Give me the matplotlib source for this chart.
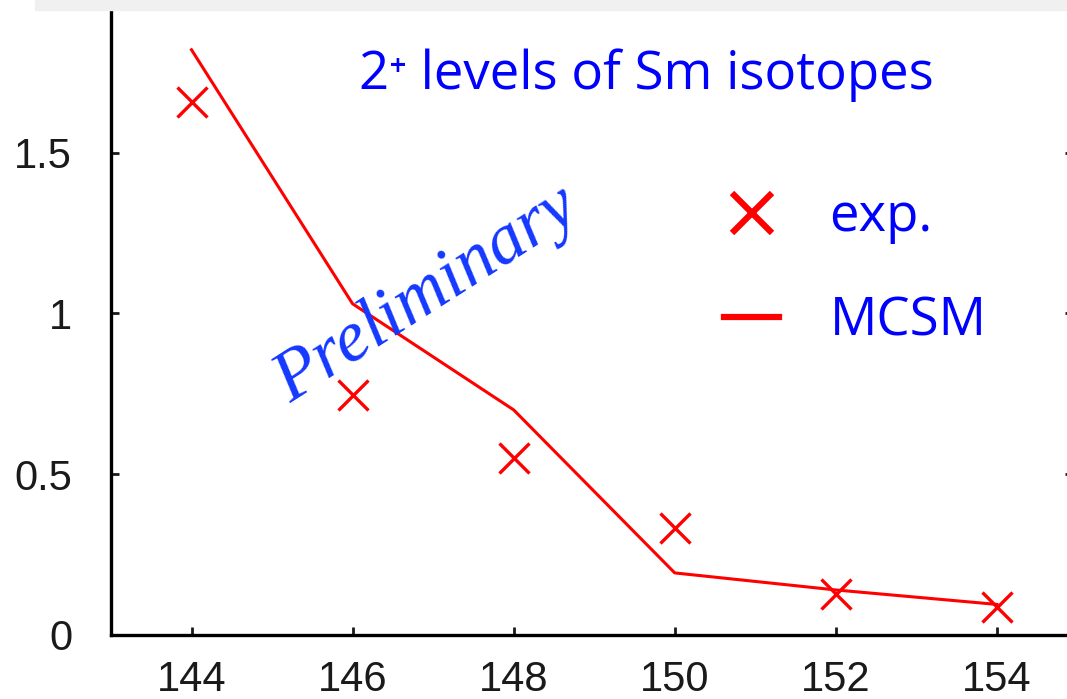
"""2+ levels of Sm isotopes: experiment vs MCSM (preliminary)."""
import matplotlib
matplotlib.use("Agg")
import matplotlib.pyplot as plt
from matplotlib.lines import Line2D
from matplotlib.patches import Rectangle

mass = [144, 146, 148, 150, 152, 154]
exp_e2 = [1.659, 0.747, 0.551, 0.333, 0.128, 0.087]
mcsm_e2 = [1.82, 1.03, 0.70, 0.193, 0.14, 0.095]
xticks = [144, 146, 148, 150, 152, 154]
yticks = [0, 0.5, 1, 1.5]
ytick_labels = ["0", "0.5", "1", "1.5"]

plt.rcParams["font.family"] = ["Liberation Sans", "DejaVu Sans"]

fig = plt.figure(figsize=(10.67, 6.99), dpi=100)
ax = fig.add_axes([0.104, 0.0916, 0.902, 0.92])

ax.plot(mass, mcsm_e2, color="red", lw=2.2, zorder=3)
ax.plot(mass, exp_e2, ls="none", marker="x", color="red", ms=21, mew=2.4, zorder=4)

ax.set_xlim(143, 154.95)
ax.set_ylim(0, 2.0)
ax.set_xticks(xticks)
ax.set_yticks(yticks)
ax.set_yticklabels(ytick_labels)
ax.tick_params(direction="in", length=6, width=2, labelsize=30, colors="#1a1a1a",
               right=True, top=False)
ax.tick_params(axis="x", pad=18)
ax.tick_params(axis="y", pad=28)
for side in ["top", "right"]:
    ax.spines[side].set_visible(False)
for side in ["left", "bottom"]:
    ax.spines[side].set_linewidth(2.4)
    ax.spines[side].set_color("black")

blue = "#0000ff"
ax.text(0.556, 0.871, "2\u207a levels of Sm isotopes", transform=ax.transAxes,
        color=blue, fontsize=38, family=["Open Sans", "DejaVu Sans"],
        ha="center", va="center")
ax.text(0.328, 0.529, "Preliminary", transform=ax.transAxes, color="#1438ff",
        fontsize=52, family=["Liberation Serif"], style="italic", rotation=32.6,
        ha="center", va="center")

handles = [Line2D([], [], ls="none", marker="x", color="red", ms=29, mew=4.5),
           Line2D([], [], color="red", lw=4.5)]
ax.legend(handles, ["exp.", "MCSM"], loc="center left", bbox_to_anchor=(0.588, 0.568),
          frameon=False, handlelength=1.04, handletextpad=0.95, labelspacing=0.96,
          prop={"family": ["Open Sans", "DejaVu Sans"], "size": 38},
          labelcolor=blue)

# grey band across the top
fig.patches.append(Rectangle((35 / 1067, 1 - 10 / 699), 1.0, 10 / 699,
                             transform=fig.transFigure, color="#f0f0f0", zorder=10))

fig.savefig("out.png", dpi=100)
print("wrote out.png")
